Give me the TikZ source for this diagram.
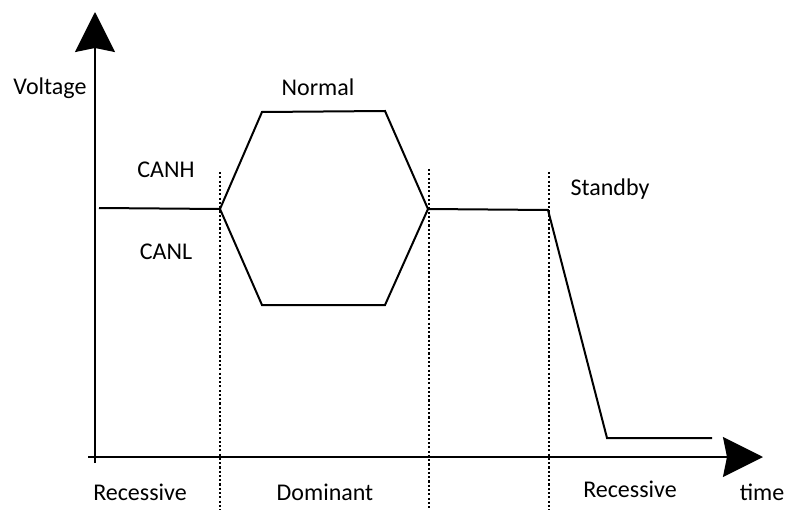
\documentclass[tikz,border=0pt]{standalone}
\usepackage{fontspec}
\setmainfont{Carlito}
\usetikzlibrary{arrows.meta}
\begin{document}
\begin{tikzpicture}[x=0.75pt,y=-0.75pt,
  axis/.style={line width=1.5pt,-{Stealth[length=30pt,width=30pt,inset=3pt]}},
  sig/.style={line width=1.5pt,line join=miter},
  divider/.style={line width=1.6pt,dash pattern=on 1.6pt off 1.6pt},
  lbl/.style={font=\fontsize{18}{21}\selectfont,inner sep=0pt}]
\useasboundingbox (0,0) rectangle (790,510);
% axes
\coordinate (yb) at (95,463);
\coordinate (yt) at (95,12);
\coordinate (xl) at (88,457);
\coordinate (xr) at (763,457);
\draw[axis] (yb) -- (yt);
\draw[axis] (xl) -- (xr);
% dividers
\coordinate (d1t) at (220,172); \coordinate (d1b) at (220,510);
\coordinate (d2t) at (429,169); \coordinate (d2b) at (429,510);
\coordinate (d3t) at (549,172); \coordinate (d3b) at (549,510);
\draw[divider] (d1t) -- (d1b);
\draw[divider] (d2t) -- (d2b);
\draw[divider] (d3t) -- (d3b);
% signal
\coordinate (s0) at (99,208);
\coordinate (s1) at (220,209);
\coordinate (h1) at (262,112);
\coordinate (h2) at (385,111);
\coordinate (s2) at (428,209);
\coordinate (l2) at (385,305);
\coordinate (l1) at (262,305);
\coordinate (s3) at (548,210);
\coordinate (s4) at (607,438);
\coordinate (s5) at (712,438);
\draw[sig] (s0) -- (s1);
\draw[sig] (s1) -- (h1) -- (h2) -- (s2) -- (l2) -- (l1) -- cycle;
\draw[sig] (s2) -- (s3) -- (s4) -- (s5);
% labels
\node[lbl] (voltage) at (50,88) {Voltage};
\node[lbl] (normal) at (318,87) {Normal};
\node[lbl] (canh) at (166,170) {CANH};
\node[lbl] (canl) at (166,252) {CANL};
\node[lbl] (standby) at (610,189) {Standby};
\node[lbl] (rec1) at (140,492) {Recessive};
\node[lbl] (dom) at (325,492) {Dominant};
\node[lbl] (rec2) at (630,489) {Recessive};
\node[lbl] (time) at (762,492) {time};
\end{tikzpicture}
\end{document}
